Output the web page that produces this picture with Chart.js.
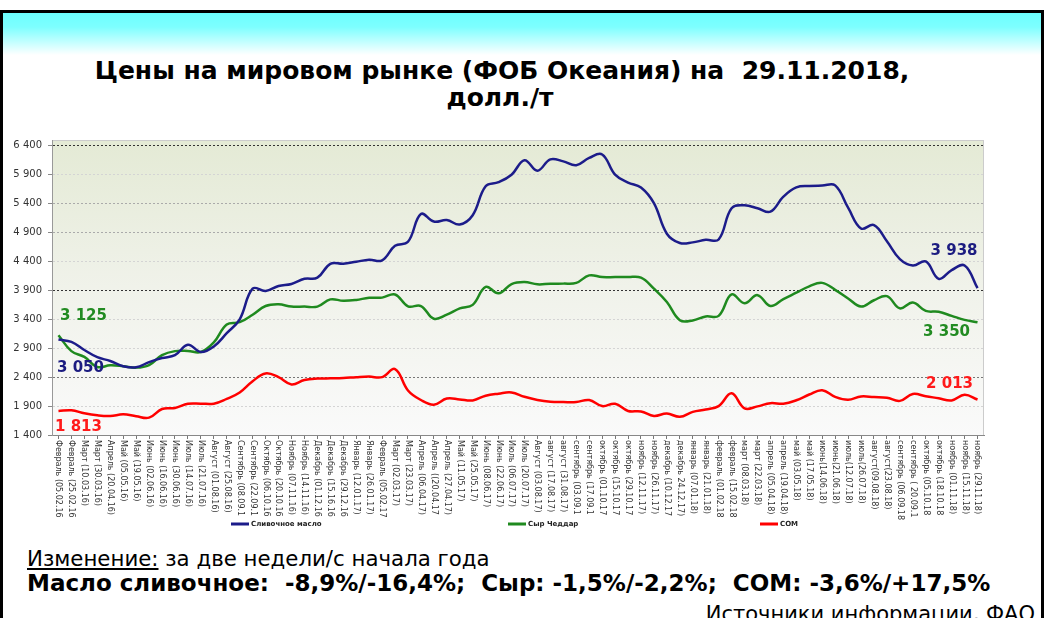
<!DOCTYPE html>
<html>
<head>
<meta charset="utf-8">
<script src="https://cdn.jsdelivr.net/npm/chart.js@4/dist/chart.umd.min.js"></script>
<style>
  html, body { margin: 0; padding: 0; background: #fff; overflow: hidden; }
  body { width: 1048px; height: 618px; position: relative; font-family: "DejaVu Sans", Verdana, sans-serif; }
  #frame { position: absolute; left: 0; top: 10px; width: 1038px; height: 640px; border: 3px solid #000; border-bottom: none;
    background: linear-gradient(to bottom, #6cffff 0px, #7dffff 14px, #ffffff 42px, #ffffff 100%); }
  .txt { position: absolute; white-space: pre; color: #000; line-height: 1; }
  #title1 { left: 0; width: 1004px; text-align: center; top: 58px; font-size: 25px; font-weight: bold; }
  #title2 { left: 0; width: 1000px; text-align: center; top: 85px; font-size: 25px; font-weight: bold; }
  #change1 { left: 27px; top: 548px; font-size: 21.3px; }
  #change2 { left: 27px; top: 572px; font-size: 23px; font-weight: bold; }
  #source { right: 13px; top: 604px; font-size: 21px; }
  #chartBox { position: absolute; left: 0; top: 128px; width: 1000px; height: 412px; }
</style>
</head>
<body>
<div id="frame"></div>
<div class="txt" id="title1">Цены на мировом рынке (ФОБ Океания) на  29.11.2018,</div>
<div class="txt" id="title2">долл./т</div>
<div id="chartBox"><canvas id="chartPrices"></canvas></div>
<div class="txt" id="change1"><u>Изменение:</u> за две недели/с начала года</div>
<div class="txt" id="change2">Масло сливочное:  -8,9%/-16,4%;  Сыр: -1,5%/-2,2%;  СОМ: -3,6%/+17,5%</div>
<div class="txt" id="source">Источники информации, ФАО</div>
<script>
// dates of the FOB Oceania quotes
var dates = ['Февраль (05.02.16', 'Февраль (25.02.16', 'Март (10.03.16)', 'Март (30.03.16)', 'Апрель (20.04.16)',
  'Май (05.05.16)', 'Май (19.05.16)', 'Июнь (02.06.16)', 'Июнь (16.06.16)', 'Июнь (30.06.16)', 'Июль (14.07.16)',
  'Июль (21.07.16)', 'Август (01.08.16)', 'Август (25.08.16)', 'Сентябрь (08.09.1', 'Сентябрь (22.09.1',
  'Октябрь (06.10.16', 'Октябрь (20.10.16', 'Ноябрь (07.11.16)', 'Ноябрь (14.11.16)', 'Декабрь (01.12.16',
  'Декабрь (15.16.16', 'Декабрь (29.12.16', 'Январь (12.01.17)', 'Январь (26.01.17)', 'Февраль (05.02.17',
  'Март (02.03.17)', 'Март (23.03.17)', 'Апрель (06.04.17)', 'Апрель ((20.04.17', 'Апрель (27.04.17)',
  'Май (11.05.17)', 'Май (25.05.17)', 'Июнь (08.06.17)', 'Июнь (22.06.17)', 'Июль (06.07.17)', 'Июль (20.07.17)',
  'Август (03.08.17)', 'август (17.08.17)', 'август (31.08.17)', 'сентябрь (03.09.1', 'сентябрь (17.09.1',
  'октябрь (01.10.17', 'октябрь (15.10.17', 'октябрь (29.10.17', 'ноябрь (12.11.17)', 'ноябрь (26.11.17)',
  'декабрь (10.12.17', 'декабрь 24.12.17)', 'январь (07.01.18)', 'январь (21.01.18)', 'февраль (01.02.18',
  'февраль (15.02.18', 'март (08.03.18)', 'март (22.03.18)', 'апрель (05.04.18)', 'апрель (19.04.18)',
  'май (03.05.18)', 'май (17.05.18)', 'июнь(14.06.18)', 'июнь(21.06.18)', 'июль(12.07.18)', 'июль(26.07.18)',
  'август(09.08.18)', 'август(23.08.18)', 'сентябрь (06.09.18', 'сентябрь ( 20.09.1', 'октябрь (05.10.18',
  'октябрь (18.10.18', 'ноябрь (01.11.18)', 'ноябрь (15.11.18)', 'ноябрь (29.11.18)'];

var seriesNames = ['Сливочное масло', 'Сыр Чеддар', 'СОМ'];

var butter = [3050, 3010, 2870, 2745, 2680, 2590, 2570, 2660, 2730, 2780, 2960, 2834, 2930, 3160, 3400, 3930,
  3890, 3975, 4010, 4100, 4120, 4360, 4360, 4395, 4430, 4420, 4670, 4740, 5220, 5090, 5115, 5040, 5200, 5700,
  5770, 5900, 6150, 5970, 6166, 6130, 6064, 6190, 6250, 5900, 5765, 5680, 5410, 4880, 4720, 4730, 4775, 4780,
  5320, 5370, 5320, 5260, 5520, 5680, 5705, 5712, 5715, 5330, 4970, 5030, 4750, 4440, 4330, 4400, 4100, 4250,
  4330, 3938];

var cheese = [3125, 2850, 2750, 2575, 2605, 2590, 2565, 2610, 2780, 2850, 2852, 2835, 3000, 3310, 3350, 3480,
  3630, 3660, 3620, 3620, 3620, 3745, 3720, 3735, 3773, 3775, 3830, 3625, 3630, 3410, 3480, 3590, 3650, 3960,
  3850, 4010, 4045, 4005, 4015, 4017, 4030, 4160, 4130, 4131, 4131, 4120, 3930, 3700, 3385, 3380, 3449, 3460,
  3830, 3676, 3818, 3630, 3750, 3860, 3970, 4030, 3910, 3761, 3620, 3730, 3800, 3590, 3690, 3545, 3530, 3460,
  3390, 3350];

var smp = [1813, 1828, 1775, 1740, 1728, 1757, 1725, 1700, 1850, 1868, 1940, 1942, 1942, 2025, 2135, 2330, 2464,
  2400, 2275, 2350, 2375, 2379, 2385, 2400, 2410, 2400, 2540, 2170, 2005, 1925, 2030, 2015, 1998, 2080, 2115,
  2135, 2060, 2005, 1975, 1970, 1970, 2005, 1900, 1940, 1816, 1808, 1730, 1771, 1714, 1800, 1840, 1900, 2120,
  1860, 1895, 1950, 1940, 2000, 2100, 2175, 2060, 2010, 2067, 2055, 2044, 1990, 2110, 2070, 2035, 1998, 2095,
  2013];

var yTicks = [1400, 1900, 2400, 2900, 3400, 3900, 4400, 4900, 5400, 5900, 6400];

function fmt(v) {
  return String(v).replace(/\B(?=(\d{3})+(?!\d))/g, ' ');
}

var lineColors = ['#1c1c8a', '#1f8a1f', '#ff0000'];
var textColors = ['#1c1c80', '#228b22', '#ff1a1a'];
// where the first / last value is written, relative to the point: [dx, dy, align]
var endLabelPos = [
  { first: [-1.5, 29, 'left'], last: [0, -37, 'right'] },
  { first: [1.5, -19, 'left'], last: [-7.5, 10, 'right'] },
  { first: [-3.5, 16, 'left'], last: [-4.5, -15, 'right'] }
];
var legendStarts = [231, 508, 760];

Chart.defaults.font.family = '"DejaVu Sans", Verdana, sans-serif';

var plotBackground = {
  id: 'plotBackground',
  beforeDraw: function(chart) {
    var a = chart.chartArea, ctx = chart.ctx;
    var g = ctx.createLinearGradient(0, a.top, 0, a.bottom);
    g.addColorStop(0, '#e4ead5');
    g.addColorStop(0.5, '#f0f2ea');
    g.addColorStop(1, '#fafafa');
    ctx.save();
    ctx.fillStyle = g;
    ctx.fillRect(a.left, a.top, a.right - a.left, a.bottom - a.top);
    ctx.strokeStyle = '#cccccc';
    ctx.lineWidth = 1;
    ctx.strokeRect(a.left + 0.5, a.top + 0.5, a.right - a.left - 1, a.bottom - a.top);
    ctx.restore();
  }
};

// x labels read top-down, so they are drawn here instead of by the scale
var dateLabels = {
  id: 'dateLabels',
  afterDraw: function(chart) {
    var xs = chart.scales.x, ctx = chart.ctx, y = chart.chartArea.bottom + 5;
    ctx.save();
    ctx.font = '8px "DejaVu Sans"';
    ctx.fillStyle = '#333';
    ctx.textAlign = 'left';
    ctx.textBaseline = 'middle';
    chart.data.labels.forEach(function(lbl, i) {
      ctx.save();
      ctx.translate(xs.getPixelForValue(i), y);
      ctx.rotate(Math.PI / 2);
      ctx.fillText(lbl, 0, 0);
      ctx.restore();
    });
    ctx.restore();
  }
};

var endLabels = {
  id: 'endLabels',
  afterDatasetsDraw: function(chart) {
    var ctx = chart.ctx;
    ctx.save();
    ctx.font = 'bold 15px "DejaVu Sans"';
    ctx.textBaseline = 'middle';
    chart.data.datasets.forEach(function(ds, d) {
      var pts = chart.getDatasetMeta(d).data;
      var last = pts.length - 1;
      ctx.fillStyle = textColors[d];
      [[0, endLabelPos[d].first], [last, endLabelPos[d].last]].forEach(function(it) {
        var p = pts[it[0]], o = it[1];
        ctx.textAlign = o[2];
        ctx.fillText(fmt(ds.data[it[0]]), p.x + o[0], p.y + o[1]);
      });
    });
    ctx.restore();
  }
};

var bottomLegend = {
  id: 'bottomLegend',
  afterDraw: function(chart) {
    var ctx = chart.ctx, y = chart.chartArea.bottom + 89;
    ctx.save();
    ctx.font = 'bold 7px "DejaVu Sans"';
    ctx.textBaseline = 'middle';
    ctx.textAlign = 'left';
    chart.data.datasets.forEach(function(ds, d) {
      var x = legendStarts[d];
      ctx.fillStyle = ds.borderColor;
      ctx.fillRect(x, y - 1.5, 18, 3);
      ctx.fillStyle = '#222';
      ctx.fillText(ds.label, x + 20, y);
    });
    ctx.restore();
  }
};

function gridColor(c) {
  var v = c.tick ? c.tick.value : 0;
  if (v === 6400 || v === 3900) return '#333';
  if (v === 2400) return '#777';
  if (v === 4900 || v === 5400) return '#aaa';
  return '#d4d4d4';
}

var ctx = document.getElementById('chartPrices').getContext('2d');
var chartPrices = new Chart(ctx, {
  type: 'line',
  data: {
    labels: dates,
    datasets: [
      { label: seriesNames[0], data: butter, borderColor: lineColors[0], backgroundColor: lineColors[0] },
      { label: seriesNames[1], data: cheese, borderColor: lineColors[1], backgroundColor: lineColors[1] },
      { label: seriesNames[2], data: smp, borderColor: lineColors[2], backgroundColor: lineColors[2] }
    ]
  },
  options: {
    responsive: true,
    maintainAspectRatio: false,
    animation: false,
    layout: { padding: { left: 8, right: 16, top: 8, bottom: 21 } },
    elements: {
      point: { radius: 0 },
      line: { tension: 0.4, borderWidth: 2.5, fill: false }
    },
    plugins: { legend: { display: false }, tooltip: { enabled: false } },
    scales: {
      x: {
        offset: true,
        grid: { drawOnChartArea: false, tickLength: 4, color: '#777' },
        border: { color: '#888' },
        ticks: { display: false },
        afterFit: function(scale) { scale.height = 84; }
      },
      y: {
        min: 1400,
        max: 6500,
        afterBuildTicks: function(scale) {
          scale.ticks = yTicks.map(function(v) { return { value: v }; });
        },
        afterFit: function(scale) { scale.width = 44; },
        grid: { color: gridColor, tickLength: 4, tickColor: '#888' },
        border: { color: '#999', dash: [2, 2] },
        ticks: {
          padding: 6,
          color: '#333',
          font: { size: 10 },
          callback: function(v) { return fmt(v); }
        }
      }
    }
  },
  plugins: [plotBackground, dateLabels, endLabels, bottomLegend]
});
</script>
</body>
</html>
